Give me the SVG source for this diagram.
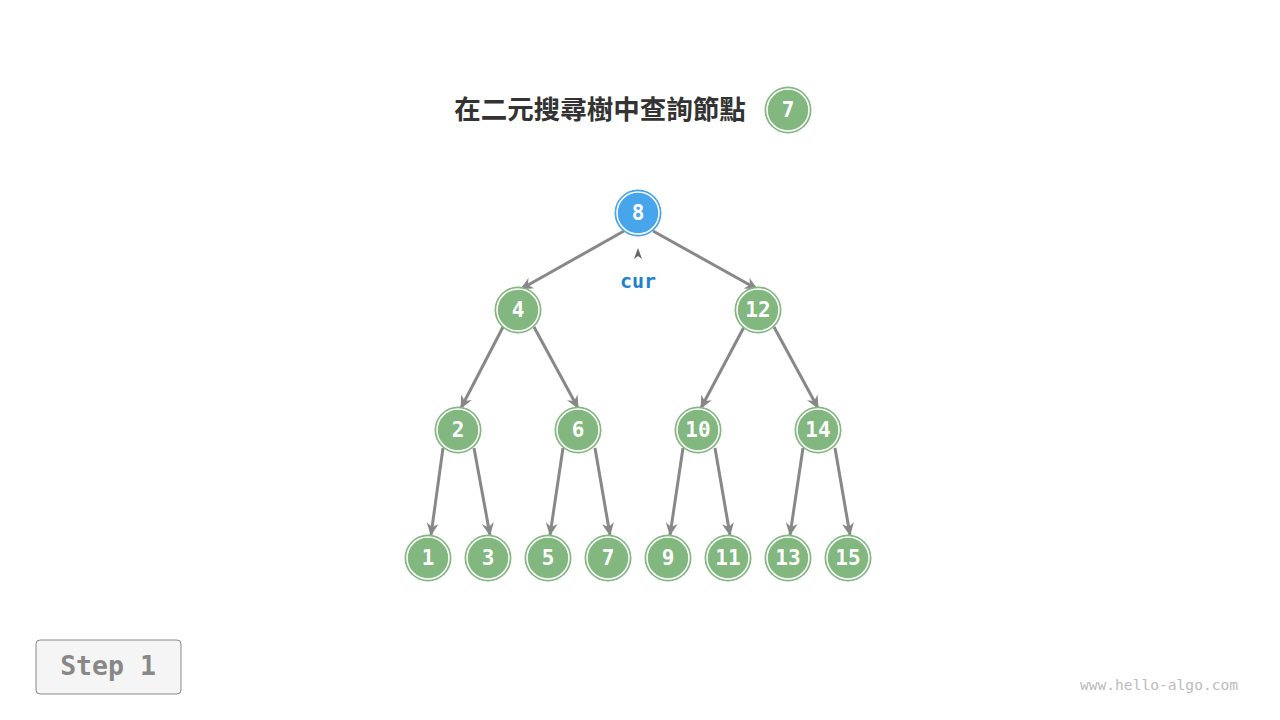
<svg xmlns="http://www.w3.org/2000/svg" width="1280" height="720" viewBox="0 0 1280 720">
<defs>
<style>
.n circle.o{fill:#82b87f}
.n circle.i{fill:none;stroke:#fff;stroke-width:1.5}
.b circle.o{fill:#46a5eb}
.n text{font-family:"DejaVu Sans Mono","Liberation Mono",monospace;font-size:21px;font-weight:bold;fill:#fff;text-anchor:middle}
.e{stroke:#888;stroke-width:3;fill:none;marker-end:url(#ah)}
</style>
<marker id="ah" markerUnits="userSpaceOnUse" viewBox="0 0 14 12" markerWidth="14" markerHeight="12" refX="12" refY="6" orient="auto">
<path d="M0,0 L13,6 L0,12 L4,6 z" fill="#888"/>
</marker>
</defs>
<rect width="1280" height="720" fill="#fff"/>
<g id="title">
<text x="600" y="119" font-family="'Noto Sans CJK TC','Noto Sans CJK SC',sans-serif" font-size="26.5" font-weight="bold" fill="#333" text-anchor="middle">在二元搜尋樹中查詢節點</text>
</g>
<g id="title-node" class="n">
<circle class="o" cx="788" cy="110" r="23.5"/><circle class="i" cx="788" cy="110" r="21"/>
<text x="788" y="117">7</text>
</g>
<g id="edges">
<line class="e" x1="624" y1="231" x2="521" y2="289"/>
<line class="e" x1="653" y1="231" x2="757" y2="289"/>
<line class="e" x1="503" y1="327" x2="461" y2="408"/>
<line class="e" x1="534" y1="327" x2="578" y2="408"/>
<line class="e" x1="744" y1="327" x2="701" y2="408"/>
<line class="e" x1="774" y1="327" x2="818" y2="408"/>
<line class="e" x1="443" y1="448" x2="431" y2="535"/>
<line class="e" x1="474" y1="448" x2="490" y2="535"/>
<line class="e" x1="563" y1="448" x2="550" y2="535"/>
<line class="e" x1="595" y1="448" x2="610" y2="535"/>
<line class="e" x1="683" y1="448" x2="670" y2="535"/>
<line class="e" x1="715" y1="448" x2="730" y2="535"/>
<line class="e" x1="803" y1="448" x2="790" y2="535"/>
<line class="e" x1="835" y1="448" x2="850" y2="535"/>
</g>
<g id="n8" class="n b"><circle class="o" cx="638" cy="213" r="23.5"/><circle class="i" cx="638" cy="213" r="21"/><text x="638" y="220">8</text></g>
<g id="n4" class="n"><circle class="o" cx="518" cy="310" r="23.5"/><circle class="i" cx="518" cy="310" r="21"/><text x="518" y="317">4</text></g>
<g id="n12" class="n"><circle class="o" cx="758" cy="310" r="23.5"/><circle class="i" cx="758" cy="310" r="21"/><text x="758" y="317">12</text></g>
<g id="n2" class="n"><circle class="o" cx="458" cy="430" r="23.5"/><circle class="i" cx="458" cy="430" r="21"/><text x="458" y="437">2</text></g>
<g id="n6" class="n"><circle class="o" cx="578" cy="430" r="23.5"/><circle class="i" cx="578" cy="430" r="21"/><text x="578" y="437">6</text></g>
<g id="n10" class="n"><circle class="o" cx="698" cy="430" r="23.5"/><circle class="i" cx="698" cy="430" r="21"/><text x="698" y="437">10</text></g>
<g id="n14" class="n"><circle class="o" cx="818" cy="430" r="23.5"/><circle class="i" cx="818" cy="430" r="21"/><text x="818" y="437">14</text></g>
<g id="n1" class="n"><circle class="o" cx="428" cy="558" r="23.5"/><circle class="i" cx="428" cy="558" r="21"/><text x="428" y="565">1</text></g>
<g id="n3" class="n"><circle class="o" cx="488" cy="558" r="23.5"/><circle class="i" cx="488" cy="558" r="21"/><text x="488" y="565">3</text></g>
<g id="n5" class="n"><circle class="o" cx="548" cy="558" r="23.5"/><circle class="i" cx="548" cy="558" r="21"/><text x="548" y="565">5</text></g>
<g id="n7" class="n"><circle class="o" cx="608" cy="558" r="23.5"/><circle class="i" cx="608" cy="558" r="21"/><text x="608" y="565">7</text></g>
<g id="n9" class="n"><circle class="o" cx="668" cy="558" r="23.5"/><circle class="i" cx="668" cy="558" r="21"/><text x="668" y="565">9</text></g>
<g id="n11" class="n"><circle class="o" cx="728" cy="558" r="23.5"/><circle class="i" cx="728" cy="558" r="21"/><text x="728" y="565">11</text></g>
<g id="n13" class="n"><circle class="o" cx="788" cy="558" r="23.5"/><circle class="i" cx="788" cy="558" r="21"/><text x="788" y="565">13</text></g>
<g id="n15" class="n"><circle class="o" cx="848" cy="558" r="23.5"/><circle class="i" cx="848" cy="558" r="21"/><text x="848" y="565">15</text></g>
<g id="cur">
<path d="M638,248 L642,259 L638,256 L634,259 z" fill="#666"/>
<text x="638" y="288" font-family="'DejaVu Sans Mono','Liberation Mono',monospace" font-size="20" font-weight="bold" fill="#1c82d0" text-anchor="middle">cur</text>
</g>
<g id="step">
<rect x="36" y="640" width="145" height="54" rx="4" fill="#f5f5f5" stroke="#888" stroke-width="1"/>
<text x="108" y="675" font-family="'DejaVu Sans Mono','Liberation Mono',monospace" font-size="26.5" font-weight="bold" fill="#888" text-anchor="middle">Step 1</text>
</g>
<text x="1159" y="690" font-family="'DejaVu Sans Mono','Liberation Mono',monospace" font-size="14.6" fill="#bbb" text-anchor="middle">www.hello-algo.com</text>
</svg>
